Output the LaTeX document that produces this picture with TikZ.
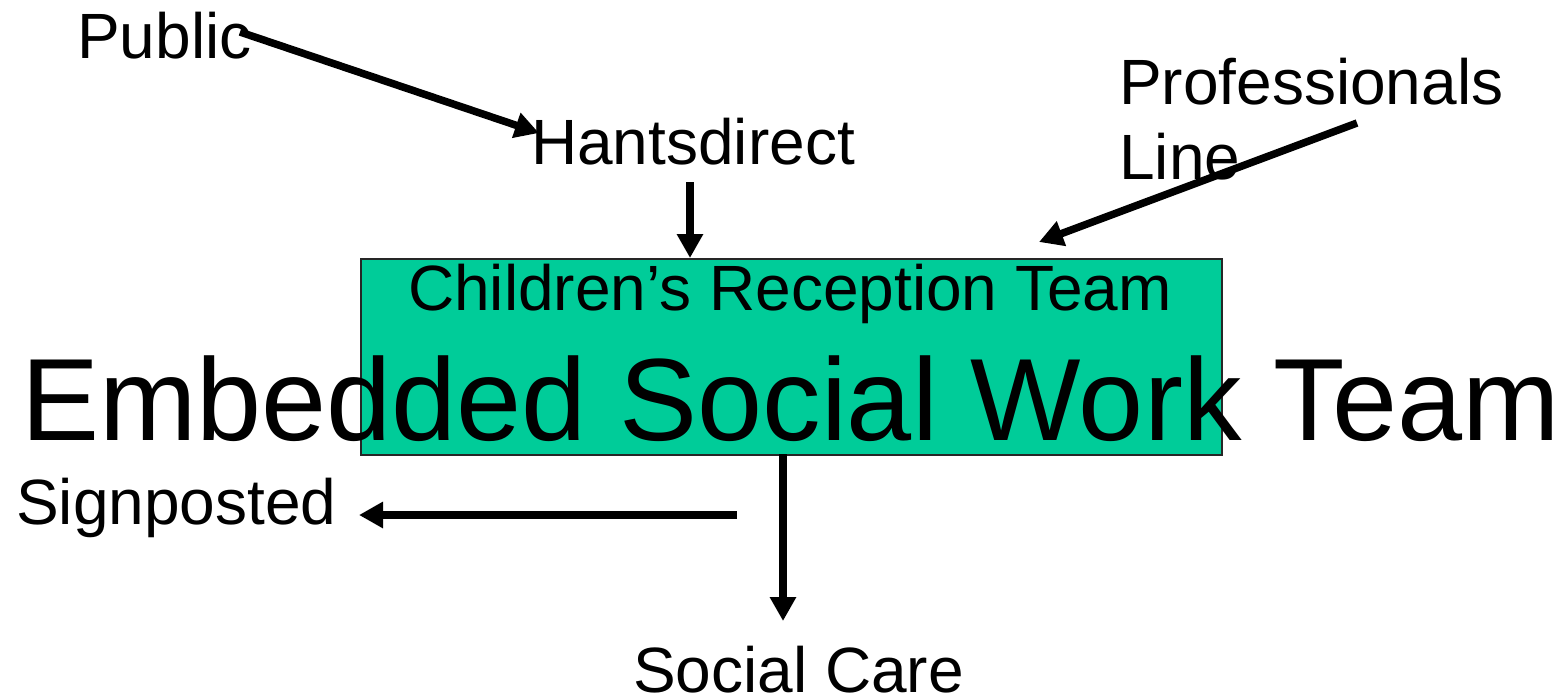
\documentclass[tikz,border=0pt]{standalone}
\usepackage{fontspec}
\setmainfont{Liberation Sans}
\usetikzlibrary{arrows.meta}
\definecolor{teamgreen}{HTML}{00CC99}
\begin{document}
\begin{tikzpicture}[x=1pt,y=-1pt,
  lbl/.style={font=\fontsize{64}{64}\selectfont,inner sep=0pt,anchor=base west},
  arr/.style={line width=7.5pt,-{Triangle[length=24pt,width=25pt]}},
  box/.style={draw=black!85,line width=1.5pt,fill=teamgreen,inner sep=0pt}]
\useasboundingbox (0,0) rectangle (1564,697);
\node[box,minimum width=861pt,minimum height=196pt,anchor=north west] (box) at (360,258) {};
\node[lbl] (crt) at (408,310) {Children’s Reception Team};
\node[inner sep=0pt,anchor=base west,font=\fontsize{117}{117}\selectfont] (esw) at (21,440) {Embedded Social Work Team};
\node[lbl] (public) at (77,58) {Public};
\node[lbl] (hants) at (531,164) {Hantsdirect};
\node[lbl] (prof) at (1119,104) {Professionals};
\node[lbl] (line) at (1119,179) {Line};
\node[lbl] (sign) at (16,524) {Signposted};
\node[lbl] (care) at (633,692) {Social Care};
\coordinate (p1) at (240,32);
\coordinate (p2) at (539,133);
\coordinate (h1) at (690,182);
\coordinate (h2) at (690,258);
\coordinate (l1) at (1357,123);
\coordinate (l2) at (1039,242);
\coordinate (s1) at (737,515);
\coordinate (s2) at (359,515);
\coordinate (c1) at (783,454);
\coordinate (c2) at (783,621);
\draw[arr] (p1) -- (p2);
\draw[arr] (h1) -- (h2);
\draw[arr] (l1) -- (l2);
\draw[arr] (s1) -- (s2);
\draw[arr] (c1) -- (c2);
\end{tikzpicture}
\end{document}
